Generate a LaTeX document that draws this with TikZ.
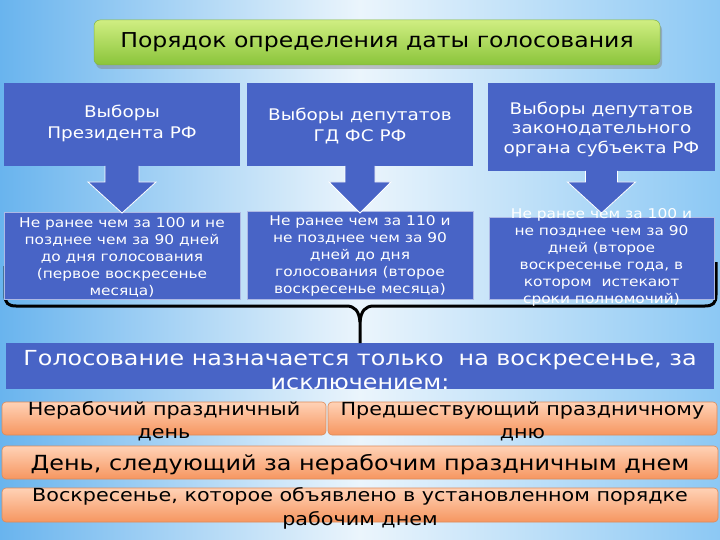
\documentclass[tikz,border=0pt]{standalone}
\usepackage{fontspec}
\setmainfont{DejaVu Sans}[FakeStretch=1.15]
\usetikzlibrary{calc}

\definecolor{boxblue}{RGB}{72,100,198}
\definecolor{bgblue}{RGB}{105,180,238}
\definecolor{bgblueR}{RGB}{140,200,244}
\definecolor{bgmid}{RGB}{235,245,252}
\definecolor{greenT}{RGB}{208,238,130}
\definecolor{greenB}{RGB}{138,196,58}
\definecolor{greenD}{RGB}{130,180,70}
\definecolor{orT}{RGB}{255,210,182}
\definecolor{orB}{RGB}{246,150,96}
\definecolor{orD}{RGB}{222,138,88}

\newcommand\blockarr[3]{%
  \fill[boxblue, draw=white, line width=0.8pt] let \p1=(#1.south) in
   (\x1-#2pt,\y1) -- (\x1-#2pt,-182pt) -- (\x1-#3pt,-182pt) -- (\x1,-213pt)
   -- (\x1+#3pt,-182pt) -- (\x1+#2pt,-182pt) -- (\x1+#2pt,\y1);
}

\begin{document}
\begin{tikzpicture}[x=1pt,y=-1pt,
  box/.style={fill=boxblue, inner sep=0pt, outer sep=0pt},
  lowbox/.style={box, draw=white!55!boxblue, line width=0.8pt},
  obox/.style={rounded corners=4pt, top color=orT, bottom color=orB, draw=orD,
    line width=0.6pt, inner sep=0pt, outer sep=0pt},
  wtxt/.style={text=white, align=center, inner sep=0pt},
  ktxt/.style={text=black, align=center, inner sep=0pt},
]
\useasboundingbox (0,0) rectangle (720,540);
% background
\shade[left color=bgblue, right color=bgblueR, middle color=bgmid] (0,0) rectangle (720,540);

% title
\fill[gray, opacity=0.45, rounded corners=6pt] (96,24) rectangle (662,69);
\node[rounded corners=6pt, top color=greenT, bottom color=greenB, draw=greenD,
  line width=0.5pt, minimum width=566pt, minimum height=45pt, inner sep=0pt]
  (title) at (377,42.5) {};
\node[ktxt, font=\fontsize{20.5}{24}\selectfont] (titlex) at (title) {Порядок определения даты голосования};

% brace (behind boxes)
\node[box, minimum width=708pt, minimum height=46pt] (wide) at (360,366) {};
\coordinate (bl) at (5,266);
\coordinate (br) at (716,262);
\draw[line width=3pt, black, line join=round]
  (bl) -- (5,295) .. controls (5,303) and (8,306) .. (16,306) -- (346,306)
  .. controls (355,306) and (359,311) .. (360,322) -- (wide.north);
\draw[line width=3pt, black, line join=round]
  (br) -- (716,295) .. controls (716,303) and (713,306) .. (705,306) -- (374,306)
  .. controls (365,306) and (361,311) .. (360,322);

% top boxes
\node[box, minimum width=236pt, minimum height=83pt] (t1) at (122,124.5) {};
\node[box, minimum width=226pt, minimum height=83pt] (t2) at (360,124.5) {};
\node[box, minimum width=227pt, minimum height=88pt] (t3) at (601.5,127) {};
\node[wtxt, font=\fontsize{16}{21}\selectfont] (t1x) at ($(t1)+(0,-1)$) {Выборы\\Президента РФ};
\node[wtxt, font=\fontsize{16}{21}\selectfont] (t2x) at ($(t2)+(0,1.5)$) {Выборы депутатов\\ГД ФС РФ};
\node[wtxt, font=\fontsize{16}{19.5}\selectfont] (t3x) at ($(t3)+(0,2)$) {Выборы депутатов\\законодательного\\органа субъекта РФ};

% lower boxes
\node[lowbox, minimum width=236pt, minimum height=87pt] (b1) at (122,255.5) {};
\node[lowbox, minimum width=226pt, minimum height=88pt] (b2) at (360,255) {};
\node[lowbox, minimum width=225pt, minimum height=82pt] (b3) at (601.5,258) {};
\node[wtxt, font=\fontsize{13.4}{17}\selectfont] (b1x) at ($(b1)+(0,1.5)$) {Не ранее чем за 100 и не\\позднее чем за 90 дней\\до дня голосования\\(первое воскресенье\\месяца)};
\node[wtxt, font=\fontsize{13.4}{17}\selectfont] (b2x) at ($(b2)+(0,1)$) {Не ранее чем за 110 и\\не позднее чем за 90\\дней до дня\\голосования (второе\\воскресенье месяца)};
\node[wtxt, font=\fontsize{13.4}{17}\selectfont] (b3x) at ($(b3)+(0,-0.5)$) {Не ранее чем за 100 и\\не позднее чем за 90\\дней (второе\\воскресенье года, в\\котором~ истекают\\сроки полномочий)};

% block arrows
\blockarr{t1}{17}{34}
\blockarr{t2}{15}{31}
\blockarr{t3}{16}{34}

% wide text
\node[wtxt, font=\fontsize{20.7}{24}\selectfont] (widex) at ($(wide)+(0,4)$) {Голосование назначается только~ на воскресенье, за\\исключением:};

% orange boxes
\node[obox, minimum width=324pt, minimum height=33pt] (o1) at (164,418.5) {};
\node[obox, minimum width=389pt, minimum height=33pt] (o2) at (522.5,418.5) {};
\node[obox, minimum width=716pt, minimum height=33pt] (o3) at (360,462.5) {};
\node[obox, minimum width=716pt, minimum height=34pt] (o4) at (360,505) {};
\node[ktxt, font=\fontsize{18}{23}\selectfont] (o1x) at ($(o1)+(0,3)$) {Нерабочий праздничный\\день};
\node[ktxt, font=\fontsize{18}{23}\selectfont] (o2x) at ($(o2)+(0,3)$) {Предшествующий праздничному\\дню};
\node[ktxt, font=\fontsize{20.8}{24}\selectfont] (o3x) at ($(o3)+(0,2.5)$) {День, следующий за нерабочим праздничным днем};
\node[ktxt, font=\fontsize{18}{24}\selectfont] (o4x) at ($(o4)+(0,3)$) {Воскресенье, которое объявлено в установленном порядке\\рабочим днем};
\end{tikzpicture}
\end{document}
